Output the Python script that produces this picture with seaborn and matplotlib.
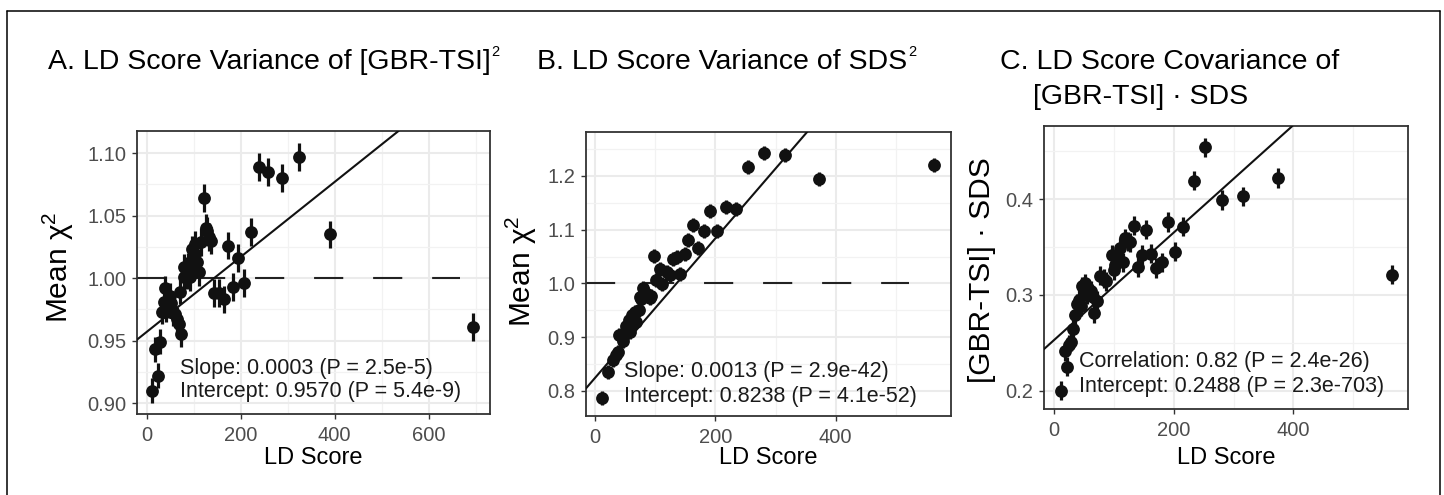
"""
Three-panel LD score regression figure (variance / covariance of
GBR-TSI and SDS against LD score), with point ranges and fitted lines.
"""

import numpy as np
import pandas as pd
import matplotlib
matplotlib.use("Agg")
import matplotlib.pyplot as plt
import seaborn as sns
from matplotlib.lines import Line2D
from matplotlib.ticker import MultipleLocator, FormatStrFormatter

# ================= DATA =================
# Panel A: mean chi^2 of [GBR-TSI]^2 by LD score bin
ld_a = [11, 18.5, 24, 28, 32.6, 36, 39.7, 40, 43, 46.8, 50.3, 52, 56, 61,
        64.6, 68.2, 71.6, 73.9, 78.8, 78.8, 86, 86, 88.7, 92.3, 96.5, 99.4,
        103, 103.6, 107, 110.7, 116, 121, 126, 129, 132, 137, 143, 153, 165,
        173, 183, 194, 206, 221, 238, 259, 287, 325, 390, 695]
chi_a = [0.910, 0.943, 0.922, 0.949, 0.973, 0.981, 0.992, 0.975, 0.982,
         0.978, 0.986, 0.980, 0.972, 0.971, 0.967, 0.963, 0.989, 0.955,
         1.009, 1.001, 1.006, 1.002, 1.009, 1.001, 1.023, 1.016, 1.027,
         1.019, 1.013, 1.005, 1.029, 1.064, 1.040, 1.038, 1.033, 1.030,
         0.988, 0.988, 0.983, 1.026, 0.993, 1.016, 0.996, 1.037, 1.089,
         1.085, 1.080, 1.097, 1.035, 0.961]
se_a = [0.010] * 20 + [0.011] * 30

# Panel B: mean chi^2 of SDS^2 by LD score bin
ld_b = [12, 22, 30, 35, 37.6, 40.5, 46, 51.5, 57, 58, 61, 63, 66.5, 68.5,
        73.7, 75, 76.4, 80.3, 82, 86, 91.4, 93, 98, 101.4, 108, 111, 119,
        124.6, 130, 136.7, 142, 149, 155, 162.5, 171.5, 181, 191, 203, 217,
        234, 254, 280, 316, 373, 562.5]
chi_b = [0.786, 0.835, 0.857, 0.867, 0.873, 0.903, 0.893, 0.920, 0.932,
         0.910, 0.941, 0.938, 0.946, 0.928, 0.950, 0.975, 0.970, 0.992,
         0.985, 0.981, 0.972, 0.976, 1.051, 1.007, 1.026, 0.998, 1.022,
         1.015, 1.046, 1.049, 1.017, 1.055, 1.081, 1.108, 1.065, 1.098,
         1.134, 1.097, 1.142, 1.138, 1.217, 1.242, 1.240, 1.195, 1.221]
se_b = [0.013] * 45

# Panel C: mean [GBR-TSI] . SDS by LD score bin
ld_c = [11, 18, 22, 25, 28, 32, 35, 38, 41, 45, 47, 51, 54, 57, 61, 64, 66,
        72, 77, 83, 87, 96, 100, 102, 107, 110, 115, 118, 123, 127, 134, 140,
        146, 154, 162, 170, 181, 190, 202, 216, 233, 253, 280, 316, 374, 565]
cov_c = [0.200, 0.241, 0.225, 0.248, 0.251, 0.264, 0.279, 0.291, 0.295,
         0.288, 0.309, 0.312, 0.300, 0.307, 0.304, 0.298, 0.281, 0.294,
         0.320, 0.317, 0.314, 0.342, 0.326, 0.331, 0.334, 0.349, 0.334,
         0.359, 0.356, 0.355, 0.372, 0.329, 0.342, 0.368, 0.343, 0.328,
         0.334, 0.376, 0.345, 0.371, 0.419, 0.454, 0.399, 0.403, 0.422,
         0.321]
se_c = [0.010] * 46

# fitted lines (intercept, slope) per panel
fit_intercepts = [0.9570, 0.8238, 0.2531]
fit_slopes = [0.0003, 0.0013, 0.00056]

titles = [
    "A. LD Score Variance of [GBR-TSI]",
    "B. LD Score Variance of SDS",
    "C. LD Score Covariance of",
]
title_sups = ["2", "2", None]
title_c_line2 = "[GBR-TSI] \u00b7 SDS"
ylabels = ["Mean $\\mathrm{\\chi}^2$", "Mean $\\mathrm{\\chi}^2$",
           "[GBR-TSI] \u00b7 SDS"]
annotations = [
    ("Slope: 0.0003 (P = 2.5e-5)", "Intercept: 0.9570 (P = 5.4e-9)"),
    ("Slope: 0.0013 (P = 2.9e-42)", "Intercept: 0.8238 (P = 4.1e-52)"),
    ("Correlation: 0.82 (P = 2.4e-26)", "Intercept: 0.2488 (P = 2.3e-703)"),
]
# ========================================

sns.set_theme(style="white")
plt.rcParams["font.family"] = ["Liberation Sans", "DejaVu Sans"]
plt.rcParams["mathtext.fontset"] = "custom"
plt.rcParams["mathtext.rm"] = "Liberation Sans"
plt.rcParams["mathtext.it"] = "Liberation Sans:italic"
plt.rcParams["mathtext.bf"] = "Liberation Sans:bold"
plt.rcParams["lines.scale_dashes"] = False

W, H = 1444, 495

panels = [
    pd.DataFrame({"ld": ld_a, "val": chi_a, "se": se_a}),
    pd.DataFrame({"ld": ld_b, "val": chi_b, "se": se_b}),
    pd.DataFrame({"ld": ld_c, "val": cov_c, "se": se_c}),
]

# layout (figure fractions) matched to the reference
axes_rects = [
    [0.0947, 0.1630, 0.2447, 0.5729],
    [0.4056, 0.1602, 0.2530, 0.5737],
    [0.7228, 0.1737, 0.2523, 0.5717],
]
xlims = [(-21.3, 731), (-15.5, 591.6), (-17.7, 592)]
ylims = [(0.891, 1.118), (0.7534, 1.2825), (0.1809, 0.4762)]
y_major = [0.05, 0.1, 0.1]
y_fmt = ["%.2f", "%.1f", "%.1f"]
hline_xmax = [0.915, 0.885, None]
ann_pos = [(0.1226, 0.1622, 0.0797), (0.1048, 0.155, 0.0669),
           (0.0969, 0.167, 0.0813)]
title_x = [48 / W, 537 / W, 1000 / W]
ylabel_x = [58 / W, 521.7 / W, 981.7 / W]
ylabel_y = [1 - 267 / H, 1 - 271 / H, 1 - 270 / H]
xlabel_xy = [(313 / W, 1 - 458 / H), (768.3 / W, 1 - 458 / H),
             (1226.7 / W, 1 - 458 / H)]

fig = plt.figure(figsize=(W / 100, H / 100), dpi=100)
renderer = fig.canvas.get_renderer()

for i, df in enumerate(panels):
    ax = fig.add_axes(axes_rects[i])
    ax.set_xlim(*xlims[i])
    ax.set_ylim(*ylims[i])

    ax.xaxis.set_major_locator(MultipleLocator(200))
    ax.xaxis.set_minor_locator(MultipleLocator(100))
    ax.yaxis.set_major_locator(MultipleLocator(y_major[i]))
    ax.yaxis.set_minor_locator(MultipleLocator(y_major[i] / 2))
    ax.yaxis.set_major_formatter(FormatStrFormatter(y_fmt[i]))

    ax.grid(which="major", color="#EBEBEB", linewidth=1.5, zorder=0)
    ax.grid(which="minor", color="#F2F2F2", linewidth=0.9, zorder=0)
    ax.set_axisbelow(True)

    ax.tick_params(which="major", length=3.6, width=1.0, color="#333333",
                   labelsize=14.5, labelcolor="#4D4D4D", pad=4,
                   bottom=True, left=True)
    ax.tick_params(axis="x", which="major", pad=5)
    ax.tick_params(which="minor", length=0)
    for side in ax.spines.values():
        side.set_color("#333333")
        side.set_linewidth(1.3)

    if hline_xmax[i] is not None:
        ax.axhline(1.0, xmax=hline_xmax[i], color="#222222", linewidth=1.5,
                   dashes=(21, 21.5), zorder=2)

    ax.axline((0, fit_intercepts[i]), slope=fit_slopes[i], color="#111111",
              linewidth=1.5, zorder=4)

    ax.errorbar(df["ld"], df["val"], yerr=df["se"], fmt="none",
                ecolor="#111111", elinewidth=2.3, capsize=0, zorder=3)
    sns.scatterplot(data=df, x="ld", y="val", ax=ax, color="#111111",
                    s=85, linewidth=0, zorder=5, legend=False)
    ax.set_xlabel("")
    ax.set_ylabel("")

    tx, ty1, ty2 = ann_pos[i]
    ax.text(tx, ty1, annotations[i][0], transform=ax.transAxes,
            fontsize=15.5, color="#1A1A1A", va="center", ha="left", zorder=6)
    ax.text(tx, ty2, annotations[i][1], transform=ax.transAxes,
            fontsize=15.5, color="#1A1A1A", va="center", ha="left", zorder=6)

    t = fig.text(title_x[i], 1 - 61.7 / H, titles[i], fontsize=20.5,
                 ha="left", va="center", color="black")
    if title_sups[i]:
        bb = t.get_window_extent(renderer=renderer)
        fig.text((bb.x1 + 1) / W, 1 - 52 / H, title_sups[i], fontsize=10.5,
                 ha="left", va="center", color="black")
    fig.text(ylabel_x[i], ylabel_y[i], ylabels[i], fontsize=21.5,
             rotation=90, ha="center", va="center", color="black")
    fig.text(xlabel_xy[i][0], xlabel_xy[i][1], "LD Score", fontsize=17,
             ha="center", va="center", color="black")

fig.text(1032.7 / W, 1 - 96.7 / H, title_c_line2, fontsize=20.5,
         ha="left", va="center", color="black")

# outer frame (open at the bottom)
x0, x1, ytop = 7 / W, 1440 / W, 1 - 11 / H
for xs, ys in [([x0, x0], [0, ytop]), ([x0, x1], [ytop, ytop]),
               ([x1, x1], [ytop, 0])]:
    fig.add_artist(Line2D(xs, ys, color="black", linewidth=1.1,
                          transform=fig.transFigure))

fig.savefig("out.png", dpi=100)
